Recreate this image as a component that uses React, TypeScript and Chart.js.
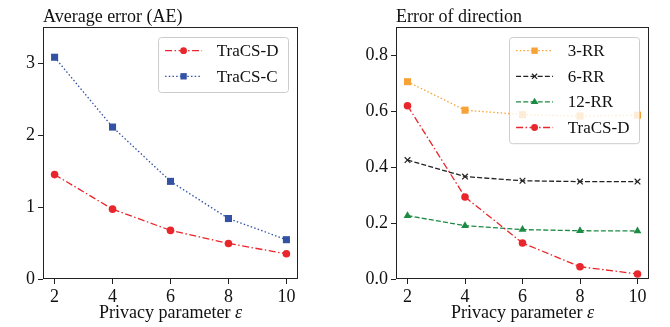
import React, { useEffect, useRef } from 'react';
import { Chart, registerables } from 'chart.js';

Chart.register(...registerables);

// ---------- data ----------
const epsilons = [2, 4, 6, 8, 10];
const xTickValues = [2, 4, 6, 8, 10];

const aeTicks = [0, 1, 2, 3];
const aeTracsD = [1.45, 0.97, 0.675, 0.494, 0.35];
const aeTracsC = [3.08, 2.11, 1.356, 0.84, 0.546];

const dirTicks = [0, 0.2, 0.4, 0.6, 0.8];
const dir3RR = [0.707, 0.605, 0.589, 0.584, 0.587];
const dir6RR = [0.426, 0.367, 0.352, 0.349, 0.349];
const dir12RR = [0.227, 0.191, 0.177, 0.173, 0.172];
const dirTracsD = [0.621, 0.294, 0.129, 0.044, 0.018];

const leftTitle = 'Average error (AE)';
const rightTitle = 'Error of direction';
const xLabelText = 'Privacy parameter ';
const xLabelSymbol = 'ε';

// ---------- styles ----------
const FONT = '"Liberation Serif", "Times New Roman", serif';
const RED = '#e9262c';
const BLUE = '#3352a3';
const ORANGE = '#f7a235';
const GREEN = '#1e8a44';
const BLACK = '#222222';
const DASHDOT = [7, 2.5, 1.5, 2.5];
const DOTTED = [1.5, 2.2];
const DASHED = [5, 2.2];

type Series = {
  label: string;
  values: number[];
  color: string;
  dash: number[];
  marker: string;
  radius: number;
};

function drawMarker(ctx: CanvasRenderingContext2D, style: string, x: number, y: number, r: number, color: string) {
  ctx.save();
  ctx.setLineDash([]);
  ctx.fillStyle = color;
  ctx.strokeStyle = color;
  ctx.beginPath();
  if (style === 'circle') {
    ctx.arc(x, y, r, 0, Math.PI * 2);
    ctx.fill();
  } else if (style === 'rect') {
    const s = r * Math.SQRT1_2;
    ctx.rect(x - s, y - s, 2 * s, 2 * s);
    ctx.fill();
  } else if (style === 'triangle') {
    const h = r * 1.5;
    ctx.moveTo(x, y - r);
    ctx.lineTo(x + r * 0.95, y + h - r);
    ctx.lineTo(x - r * 0.95, y + h - r);
    ctx.closePath();
    ctx.fill();
  } else if (style === 'crossRot') {
    ctx.lineWidth = 1.2;
    const s = r * Math.SQRT1_2;
    ctx.moveTo(x - s, y - s);
    ctx.lineTo(x + s, y + s);
    ctx.moveTo(x + s, y - s);
    ctx.lineTo(x - s, y + s);
    ctx.stroke();
  }
  ctx.restore();
}

function decorPlugin(title: string, series: Series[]) {
  return {
    id: 'decor',
    afterDraw(chart: any) {
      const ctx: CanvasRenderingContext2D = chart.ctx;
      const a = chart.chartArea;
      ctx.save();
      // frame
      ctx.strokeStyle = BLACK;
      ctx.lineWidth = 1;
      ctx.setLineDash([]);
      ctx.strokeRect(a.left + 0.5, a.top + 0.5, a.right - a.left - 1, a.bottom - a.top - 1);

      // title
      ctx.fillStyle = '#111';
      ctx.font = `18px ${FONT}`;
      ctx.textAlign = 'left';
      ctx.textBaseline = 'alphabetic';
      ctx.fillText(title, a.left, 21.5);

      // x axis label
      ctx.font = `18px ${FONT}`;
      const w1 = ctx.measureText(xLabelText).width;
      ctx.font = `italic 18px ${FONT}`;
      const w2 = ctx.measureText(xLabelSymbol).width;
      const cx = (a.left + a.right) / 2;
      const sx = cx - (w1 + w2) / 2;
      ctx.font = `18px ${FONT}`;
      ctx.fillText(xLabelText, sx, 318);
      ctx.font = `italic 18px ${FONT}`;
      ctx.fillText(xLabelSymbol, sx + w1, 318);

      // legend
      ctx.font = `17px ${FONT}`;
      const textW = Math.max(...series.map((s) => ctx.measureText(s.label).width));
      const padL = 7, lineLen = 37, gap = 14.7, padR = 9.5;
      const rowH = 25.6, firstRow = 13.7;
      const bw = padL + lineLen + gap + textW + padR;
      const bh = firstRow * 2 + (series.length - 1) * rowH + 2;
      const bx = a.right - 10 - bw;
      const by = a.top + 10;
      ctx.beginPath();
      if ((ctx as any).roundRect) (ctx as any).roundRect(bx + 0.5, by + 0.5, bw, bh, 3);
      else ctx.rect(bx + 0.5, by + 0.5, bw, bh);
      ctx.fillStyle = 'rgba(255,255,255,0.8)';
      ctx.fill();
      ctx.strokeStyle = '#cccccc';
      ctx.lineWidth = 1;
      ctx.stroke();

      series.forEach((s, i) => {
        const cy = by + firstRow + i * rowH;
        const x0 = bx + padL;
        ctx.beginPath();
        ctx.strokeStyle = s.color;
        ctx.lineWidth = 1.3;
        ctx.setLineDash(s.dash);
        ctx.moveTo(x0, cy);
        ctx.lineTo(x0 + lineLen, cy);
        ctx.stroke();
        ctx.setLineDash([]);
        drawMarker(ctx, s.marker, x0 + lineLen / 2, cy, s.radius * 0.9, s.color);
        ctx.fillStyle = '#111';
        ctx.font = `17px ${FONT}`;
        ctx.textBaseline = 'middle';
        ctx.fillText(s.label, x0 + lineLen + gap, cy + 1);
      });
      ctx.restore();
    },
  };
}

function makeConfig(
  series: Series[],
  yMax: number,
  yTicks: number[],
  yFmt: (v: number) => string,
  title: string,
  yAxisWidth: number,
  rightPad: number
): any {
  return {
    type: 'line',
    data: {
      datasets: series.map((s, i) => ({
        label: s.label,
        data: epsilons.map((x, j) => ({ x, y: s.values[j] })),
        order: series.length - i,
        borderColor: s.color,
        backgroundColor: s.color,
        borderWidth: 1.3,
        borderDash: s.dash,
        pointStyle: s.marker,
        pointRadius: s.radius,
        pointBackgroundColor: s.color,
        pointBorderColor: s.color,
        pointBorderWidth: s.marker === 'crossRot' ? 1.2 : 0,
        tension: 0,
        clip: false,
      })),
    },
    options: {
      responsive: false,
      animation: false,
      layout: { padding: { top: 27, right: rightPad, left: 0, bottom: 0 } },
      plugins: {
        legend: { display: false },
        tooltip: { enabled: false },
        title: { display: false },
      },
      scales: {
        x: {
          type: 'linear',
          min: 1.6,
          max: 10.4,
          afterBuildTicks: (s: any) => {
            s.ticks = xTickValues.map((v) => ({ value: v }));
          },
          afterFit: (s: any) => {
            s.height = 48;
          },
          ticks: {
            font: { family: FONT, size: 18 },
            color: '#111',
            padding: 2,
            maxRotation: 0,
            autoSkip: false,
            callback: (v: any) => String(v),
          },
          grid: { drawOnChartArea: false, drawTicks: true, tickLength: 5, color: BLACK },
          border: { display: false },
        },
        y: {
          type: 'linear',
          min: 0,
          max: yMax,
          afterBuildTicks: (s: any) => {
            s.ticks = yTicks.map((v) => ({ value: v }));
          },
          afterFit: (s: any) => {
            s.width = yAxisWidth;
          },
          ticks: {
            font: { family: FONT, size: 18 },
            color: '#111',
            padding: 3,
            autoSkip: false,
            callback: (v: any) => yFmt(Number(v)),
          },
          grid: { drawOnChartArea: false, drawTicks: true, tickLength: 5, color: BLACK },
          border: { display: false },
        },
      },
    },
    plugins: [decorPlugin(title, series)],
  };
}

const leftSeries: Series[] = [
  { label: 'TraCS-D', values: aeTracsD, color: RED, dash: DASHDOT, marker: 'circle', radius: 3.8 },
  { label: 'TraCS-C', values: aeTracsC, color: BLUE, dash: DOTTED, marker: 'rect', radius: 5 },
];

const rightSeries: Series[] = [
  { label: '3-RR', values: dir3RR, color: ORANGE, dash: DOTTED, marker: 'rect', radius: 5 },
  { label: '6-RR', values: dir6RR, color: BLACK, dash: DASHED, marker: 'crossRot', radius: 4 },
  { label: '12-RR', values: dir12RR, color: GREEN, dash: DASHED, marker: 'triangle', radius: 4.5 },
  { label: 'TraCS-D', values: dirTracsD, color: RED, dash: DASHDOT, marker: 'circle', radius: 3.8 },
];

function Panel({ config, left }: { config: any; left: number }) {
  const ref = useRef<HTMLCanvasElement | null>(null);
  useEffect(() => {
    if (!ref.current) return;
    const chart = new Chart(ref.current, config);
    return () => chart.destroy();
  }, [config]);
  return (
    <canvas
      ref={ref}
      width={335}
      height={327}
      style={{ position: 'absolute', left, top: 0, width: 335, height: 327 }}
    />
  );
}

const leftConfig = makeConfig(leftSeries, 3.5, aeTicks, (v) => String(Math.round(v)), leftTitle, 43, 37);
const rightConfig = makeConfig(rightSeries, 0.903, dirTicks, (v) => v.toFixed(1), rightTitle, 61, 21);

export default function App() {
  return (
    <div style={{ position: 'fixed', left: 0, top: 0, width: 670, height: 327, background: '#fff' }}>
      <Panel config={leftConfig} left={0} />
      <Panel config={rightConfig} left={335} />
    </div>
  );
}
